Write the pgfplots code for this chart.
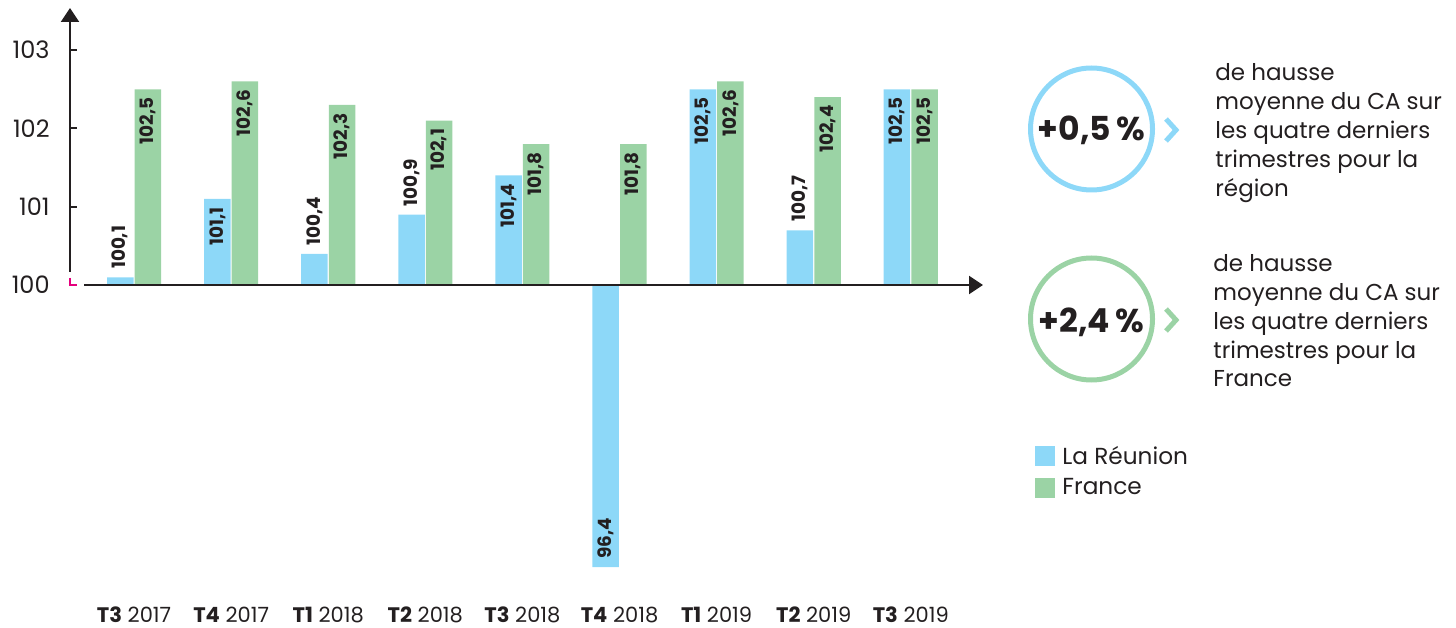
\documentclass[border=0pt]{standalone}
\usepackage{fontspec}
\setmainfont{Poppins}
\usepackage{pgfplots}
\usepackage{pgfplotstable}
\pgfplotsset{compat=1.18}
\usetikzlibrary{arrows.meta}
\definecolor{reu}{HTML}{8DD8F8}
\definecolor{fra}{HTML}{9BD3A5}
\definecolor{txt}{HTML}{231F20}
\definecolor{pinkmark}{HTML}{E5007D}

\pgfplotstableread{
x y lab
0 100.1 100,1
1 101.1 101,1
2 100.4 100,4
3 100.9 100,9
4 101.4 101,4
5 96.4 96,4
6 102.5 102,5
7 100.7 100,7
8 102.5 102,5
}\reunion
\pgfplotstableread{
x y lab
0 102.5 102,5
1 102.6 102,6
2 102.3 102,3
3 102.1 102,1
4 101.8 101,8
5 101.8 101,8
6 102.6 102,6
7 102.4 102,4
8 102.5 102,5
}\france
% Réunion labels set inside the top of the bar
\pgfplotstableread{
x y lab
1 101.1 101,1
4 101.4 101,4
6 102.5 102,5
8 102.5 102,5
}\reunionin
% Réunion labels set above the bar (or inside the bottom of the negative bar)
\pgfplotstableread{
x y lab
0 100.1 100,1
2 100.4 100,4
3 100.9 100,9
5 96.4 96,4
7 100.7 100,7
}\reunionout

\pgfplotsset{
  lbl/.style 2 args={forget plot, draw=none, mark=none,
    nodes near coords, point meta=explicit symbolic,
    every node near coord/.append style={xshift=#1, rotate=90, anchor=#2, inner xsep=4pt, inner ysep=0pt, font=\bfseries\fontsize{9.2}{10}\selectfont, text=txt}},
}

\begin{document}
\begin{tikzpicture}
\path[use as bounding box] (0,0) rectangle (728pt,313.5pt);
\begin{axis}[
  at={(35pt,26pt)}, anchor=south west,
  scale only axis, width=456.8pt, height=282.8pt,
  xmin=-0.66, xmax=8.75, ymin=-3.7, ymax=3.52,
  y filter/.expression={y-100},
  axis line style={draw=none},
  clip=false,
  /pgf/number format/assume math mode=true,
  xtick={0,...,8},
  xticklabels={{\textbf{T3} 2017},{\textbf{T4} 2017},{\textbf{T1} 2018},{\textbf{T2} 2018},{\textbf{T3} 2018},{\textbf{T4} 2018},{\textbf{T1} 2019},{\textbf{T2} 2019},{\textbf{T3} 2019}},
  xtick pos=bottom,
  x tick style={draw=none},
  xticklabel style={anchor=base, inner sep=0pt, yshift=-23.5pt, font=\fontsize{10.5}{12}\selectfont, text=txt},
  ytick={1,2,3}, yticklabels={101,102,103},
  extra y ticks={0}, extra y tick labels={100},
  extra y tick style={major tick length=0pt},
  ytick pos=left, tick align=inside,
  major tick length=3.5pt,
  y tick style={line width=1pt, color=txt},
  yticklabel style={anchor=east, inner sep=0pt, xshift=-10pt, font=\fontsize{12}{14}\selectfont, text=txt},
  legend style={at={(1.0563,0.236)}, anchor=north west, draw=none, fill=none, inner sep=0pt, row sep=1.5pt, font=\fontsize{11.6}{14}\selectfont, text=txt},
  legend cell align=left,
]
\addplot[ybar, bar width=13.25pt, bar shift=-6.9pt, fill=reu, draw=none,
  legend image code/.code={\fill[reu] (0pt,-5pt) rectangle (10pt,5pt); \path (11.5pt,0pt);}]
  table[x=x,y=y] {\reunion};
\addlegendentry{La Réunion}
\addplot[ybar, bar width=13.25pt, bar shift=6.9pt, fill=fra, draw=none,
  legend image code/.code={\fill[fra] (0pt,-5pt) rectangle (10pt,5pt); \path (11.5pt,0pt);}]
  table[x=x,y=y] {\france};
\addlegendentry{France}
\addplot[lbl={-6.9pt}{east}] table[x=x, y=y, meta=lab] {\reunionin};
\addplot[lbl={-6.9pt}{west}] table[x=x, y=y, meta=lab] {\reunionout};
\addplot[lbl={6.9pt}{east}] table[x=x, y=y, meta=lab] {\france};
\end{axis}
\begin{scope}[x=0.5pt, y=-0.5pt, yshift=313.5pt]
  % axis lines
  \draw[txt, line width=1pt, -{Triangle[width=9pt,length=7pt]}] (70,272) -- (70,8);
  \draw[txt, line width=1pt, -{Triangle[width=9pt,length=7pt]}] (84,285) -- (983,285);
  \draw[pinkmark, line width=1pt] (70,278) -- (70,285) -- (77,285);
  % circles
  \draw[reu, line width=2.5pt] (1091.5,129) circle[radius=30.5pt];
  \draw[fra, line width=2.5pt] (1091.5,319) circle[radius=30.5pt];
  \node[anchor=base, inner sep=0pt, font=\bfseries\fontsize{16.5}{18}\selectfont, text=txt] at (1091.5,141) {+0,5\,\%};
  \node[anchor=base, inner sep=0pt, font=\bfseries\fontsize{16.5}{18}\selectfont, text=txt] at (1091.5,333) {+2,4\,\%};
  % chevrons
  \draw[reu, line width=2.5pt, line cap=butt, line join=miter] (1166,119) -- (1176,130) -- (1166,141);
  \draw[fra, line width=2.5pt, line cap=butt, line join=miter] (1166,309) -- (1176,320) -- (1166,331);
  % text blocks
  \foreach \t [count=\i from 0] in {de hausse, moyenne du CA sur, les quatre derniers, trimestres pour la, région}
    \node[anchor=base west, inner sep=0pt, font=\fontsize{11.5}{14}\selectfont, text=txt] at (1215,81+28.9*\i) {\t};
  \foreach \t [count=\i from 0] in {de hausse, moyenne du CA sur, les quatre derniers, trimestres pour la, France}
    \node[anchor=base west, inner sep=0pt, font=\fontsize{11.5}{14}\selectfont, text=txt] at (1213,272+28.7*\i) {\t};
\end{scope}
\end{tikzpicture}
\end{document}
